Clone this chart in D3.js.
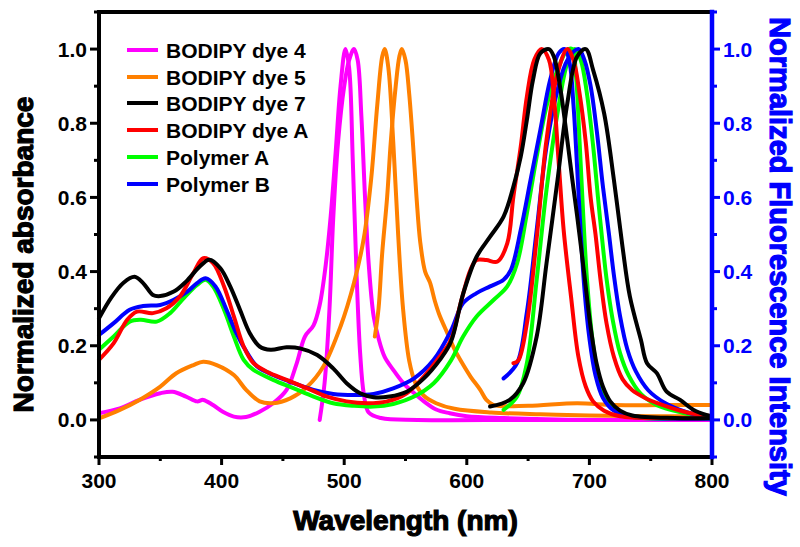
<!DOCTYPE html>
<html>
<head>
<meta charset="utf-8">
<script src="https://cdn.jsdelivr.net/npm/d3@7"></script>
<style>
html,body{margin:0;padding:0;background:#fff;}
svg{display:block;}
text{font-family:"Liberation Sans",Arial,sans-serif;font-weight:bold;}
</style>
</head>
<body>
<svg id="chart" width="800" height="547"></svg>
<script>
// ---- data (wavelength nm, normalized value) ----
const seriesNames = ["BODIPY dye 4","BODIPY dye 5","BODIPY dye 7","BODIPY dye A","Polymer A","Polymer B"];
const seriesColors = ["#ff00ff","#ff8000","#000000","#ff0000","#00ff00","#0000ff"];

const dye4Abs = [[300,0.018],[317,0.031],[333,0.054],[350,0.072],[360,0.076],[371,0.063],[380,0.05],[385,0.054],[393,0.04],[401,0.022],[410,0.009],[420,0.008],[431,0.022],[442,0.045],[453,0.081],[461,0.15],[468,0.225],[475,0.255],[480,0.31],[485,0.42],[489,0.55],[493,0.72],[497,0.9],[501,1.0],[504,0.95],[507,0.7],[510,0.4],[513,0.18],[516,0.07],[520,0.02],[530,0.005],[560,0.0],[650,0.0],[800,0.0]];
const dye4Em = [[480,0.0],[484,0.1],[488,0.3],[491,0.54],[495,0.75],[500,0.9],[504,0.97],[508,1.0],[511,0.97],[514,0.82],[517,0.6],[520,0.42],[524,0.28],[528,0.22],[533,0.17],[540,0.135],[548,0.1],[556,0.075],[565,0.05],[575,0.028],[586,0.018],[600,0.01],[630,0.005],[700,0.0],[800,0.0]];
const dye5Abs = [[300,0.004],[317,0.027],[333,0.054],[350,0.09],[363,0.126],[377,0.148],[385,0.157],[396,0.148],[410,0.121],[420,0.081],[431,0.05],[442,0.045],[456,0.058],[470,0.09],[483,0.144],[497,0.252],[508,0.37],[516,0.49],[522,0.65],[527,0.85],[531,0.98],[533,1.0],[536,0.95],[540,0.75],[544,0.5],[548,0.3],[553,0.16],[558,0.1],[565,0.065],[575,0.045],[590,0.03],[620,0.02],[660,0.015],[700,0.012],[750,0.01],[800,0.01]];
const dye5Em = [[525,0.225],[528,0.3],[531,0.45],[535,0.6],[538,0.75],[542,0.9],[545,0.98],[547,1.0],[550,0.97],[553,0.88],[556,0.75],[559,0.6],[562,0.48],[566,0.4],[570,0.37],[574,0.32],[578,0.28],[582,0.25],[586,0.22],[590,0.19],[595,0.16],[603,0.117],[611,0.081],[616,0.054],[622,0.04],[650,0.038],[690,0.045],[720,0.04],[760,0.04],[800,0.04]];
const dye7Abs = [[300,0.274],[310,0.33],[320,0.37],[329,0.386],[336,0.369],[344,0.337],[350,0.334],[361,0.346],[371,0.373],[382,0.413],[390,0.432],[399,0.409],[407,0.36],[415,0.297],[423,0.234],[431,0.198],[440,0.189],[453,0.196],[464,0.193],[478,0.175],[491,0.139],[502,0.099],[513,0.072],[524,0.061],[537,0.063],[551,0.076],[565,0.112],[578,0.162],[587,0.21],[597,0.34],[608,0.44],[619,0.494],[630,0.548],[638,0.629],[644,0.71],[649,0.809],[654,0.917],[660,0.989],[667,1.0],[671,0.98],[676,0.9],[681,0.78],[686,0.65],[690,0.55],[693,0.47],[697,0.36],[701,0.25],[706,0.15],[711,0.09],[717,0.05],[725,0.025],[735,0.012],[770,0.005],[800,0.005]];
const dye7Em = [[619,0.036],[635,0.054],[646,0.099],[657,0.225],[665,0.422],[674,0.647],[682,0.854],[690,0.98],[697,1.0],[703,0.944],[712,0.827],[720,0.647],[727,0.467],[733,0.333],[742,0.216],[747,0.153],[755,0.126],[763,0.076],[774,0.054],[785,0.027],[796,0.013],[800,0.01]];
const dyeAAbs = [[300,0.162],[312,0.207],[323,0.27],[331,0.292],[344,0.288],[355,0.301],[366,0.333],[377,0.396],[385,0.436],[393,0.423],[402,0.36],[410,0.279],[418,0.198],[426,0.153],[437,0.13],[453,0.108],[470,0.085],[486,0.063],[502,0.05],[519,0.045],[535,0.05],[551,0.072],[565,0.117],[578,0.171],[587,0.215],[595,0.315],[603,0.405],[608,0.431],[616,0.431],[625,0.427],[633,0.476],[638,0.602],[644,0.737],[649,0.872],[655,0.971],[661,1.0],[667,0.971],[671,0.872],[675,0.692],[679,0.512],[685,0.333],[691,0.171],[697,0.09],[703,0.05],[712,0.025],[725,0.01],[760,0.005],[800,0.005]];
const dyeAEm = [[638,0.153],[642,0.16],[649,0.26],[657,0.49],[665,0.755],[674,0.935],[682,1.0],[687,0.97],[692,0.88],[697,0.75],[701,0.6],[705,0.5],[709,0.38],[714,0.26],[720,0.17],[727,0.11],[735,0.08],[745,0.06],[760,0.04],[780,0.02],[800,0.01]];
const polyAAbs = [[300,0.189],[312,0.225],[325,0.265],[334,0.27],[347,0.265],[358,0.288],[369,0.328],[380,0.364],[387,0.378],[393,0.36],[402,0.297],[410,0.225],[418,0.162],[426,0.135],[442,0.108],[459,0.085],[475,0.063],[491,0.045],[508,0.038],[524,0.036],[540,0.043],[557,0.063],[573,0.099],[587,0.16],[597,0.225],[608,0.279],[622,0.324],[633,0.36],[641,0.422],[649,0.557],[657,0.71],[665,0.845],[674,0.944],[682,0.998],[686,1.0],[689,0.93],[692,0.75],[695,0.55],[698,0.38],[702,0.23],[707,0.12],[713,0.06],[720,0.03],[732,0.01],[800,0.003]];
const polyAEm = [[630,0.027],[641,0.063],[649,0.153],[657,0.378],[665,0.62],[674,0.827],[682,0.962],[688,1.0],[693,0.97],[698,0.88],[703,0.74],[707,0.6],[710,0.5],[714,0.38],[719,0.27],[725,0.18],[732,0.12],[742,0.07],[755,0.04],[775,0.02],[800,0.005]];
const polyBAbs = [[300,0.229],[312,0.261],[325,0.297],[336,0.307],[350,0.31],[361,0.324],[372,0.346],[380,0.369],[387,0.382],[395,0.36],[404,0.297],[412,0.234],[421,0.18],[429,0.144],[442,0.121],[459,0.099],[475,0.081],[491,0.07],[508,0.067],[524,0.07],[540,0.085],[557,0.112],[573,0.162],[587,0.24],[597,0.315],[608,0.342],[619,0.36],[630,0.378],[636,0.405],[644,0.512],[652,0.647],[660,0.782],[668,0.917],[675,0.989],[680,1.0],[684,0.96],[687,0.85],[690,0.68],[693,0.5],[696,0.35],[700,0.22],[705,0.12],[711,0.06],[720,0.025],[732,0.01],[800,0.003]];
const polyBEm = [[630,0.112],[641,0.153],[649,0.29],[657,0.512],[665,0.737],[674,0.89],[682,0.97],[691,1.0],[696,0.97],[701,0.9],[706,0.78],[711,0.63],[716,0.5],[720,0.39],[725,0.28],[731,0.19],[738,0.13],[748,0.08],[762,0.045],[780,0.02],[800,0.005]];

const xTicks = [300,400,500,600,700,800];
const yTicks = [0.0,0.2,0.4,0.6,0.8,1.0];

// ---- layout ----
const W = 800, H = 547;
const m = {left:99, right:88, top:12, bottom:90};
const svg = d3.select("#chart");
const x = d3.scaleLinear().domain([300,800]).range([m.left, W - m.right]);
const y = d3.scaleLinear().domain([-0.1,1.1]).range([H - m.bottom, m.top]);

const line = d3.line().x(d => x(d[0])).y(d => y(d[1])).curve(d3.curveCatmullRom.alpha(0.5));

const curves = [
  {data:dye4Abs, c:0},{data:dye4Em, c:0},
  {data:dye5Abs, c:1},{data:dye5Em, c:1},
  {data:polyAAbs, c:4},{data:polyAEm, c:4},
  {data:polyBAbs, c:5},{data:polyBEm, c:5},
  {data:dyeAAbs, c:3},{data:dyeAEm, c:3},
  {data:dye7Abs, c:2},{data:dye7Em, c:2}
];
const plot = svg.append("g");
plot.selectAll("path.curve").data(curves).enter().append("path")
  .attr("class","curve")
  .attr("d", d => line(d.data))
  .attr("fill","none")
  .attr("stroke", d => seriesColors[d.c])
  .attr("stroke-width", 4)
  .attr("stroke-linejoin","round")
  .attr("stroke-linecap","round");

// ---- axes ----
const minorY = d3.range(-0.1, 1.101, 0.1).map(v => Math.round(v*10)/10);
const minorX = d3.range(300, 801, 50);
const axisW = 4;
const isMajorY = d => yTicks.some(t => Math.abs(t-d) < 1e-6);

// left axis
const gL = svg.append("g").attr("transform", `translate(${m.left},0)`);
gL.selectAll(".tk").data(minorY).enter().append("line")
  .attr("x1", d => isMajorY(d) ? -9 : -5).attr("x2",0)
  .attr("y1", d => y(d)).attr("y2", d => y(d))
  .attr("stroke","#000").attr("stroke-width",3);
gL.selectAll(".tickl").data(yTicks).enter().append("text")
  .attr("x",-12).attr("y", d => y(d)).attr("dy","0.36em")
  .attr("text-anchor","end").attr("font-size",21).attr("fill","#000")
  .text(d => d.toFixed(1));

// right axis
const gR = svg.append("g").attr("transform", `translate(${W - m.right},0)`);
gR.selectAll(".tk").data(minorY).enter().append("line")
  .attr("x1",0).attr("x2", d => isMajorY(d) ? 8 : 5)
  .attr("y1", d => y(d)).attr("y2", d => y(d))
  .attr("stroke","#0000ff").attr("stroke-width",3);
gR.selectAll(".tickr").data(yTicks).enter().append("text")
  .attr("x",11).attr("y", d => y(d)).attr("dy","0.36em")
  .attr("text-anchor","start").attr("font-size",21).attr("fill","#0000ff")
  .text(d => d.toFixed(1));

// bottom axis
const gB = svg.append("g").attr("transform", `translate(0,${H - m.bottom})`);
gB.selectAll(".tk").data(minorX).enter().append("line")
  .attr("x1", d => x(d)).attr("x2", d => x(d))
  .attr("y1",0).attr("y2", d => xTicks.includes(d) ? 8 : 4)
  .attr("stroke","#000").attr("stroke-width",3);
gB.selectAll(".tickb").data(xTicks).enter().append("text")
  .attr("x", d => x(d)).attr("y",31)
  .attr("text-anchor","middle").attr("font-size",21).attr("fill","#000")
  .text(d => d);

// frame
svg.append("line").attr("x1",m.left).attr("x2",W-m.right).attr("y1",m.top).attr("y2",m.top).attr("stroke","#000").attr("stroke-width",axisW);
svg.append("line").attr("x1",m.left).attr("x2",W-m.right).attr("y1",H-m.bottom).attr("y2",H-m.bottom).attr("stroke","#000").attr("stroke-width",axisW).attr("stroke-linecap","square");
svg.append("line").attr("x1",m.left).attr("x2",m.left).attr("y1",m.top).attr("y2",H-m.bottom).attr("stroke","#000").attr("stroke-width",axisW).attr("stroke-linecap","square");
svg.append("line").attr("x1",W-m.right).attr("x2",W-m.right).attr("y1",m.top).attr("y2",H-m.bottom).attr("stroke","#0000ff").attr("stroke-width",axisW+0.5).attr("stroke-linecap","square");

// axis titles
svg.append("text").attr("transform",`translate(33,${(y(-0.1)+y(1.1))/2 + 20}) rotate(-90)`)
  .attr("text-anchor","middle").attr("font-size",28).attr("fill","#000")
  .attr("stroke","#000").attr("stroke-width",1.2)
  .text("Normalized absorbance");
svg.append("text").attr("transform",`translate(770,${(y(-0.1)+y(1.1))/2 + 22}) rotate(90)`)
  .attr("text-anchor","middle").attr("font-size",29).attr("fill","#0000ff")
  .attr("stroke","#0000ff").attr("stroke-width",1.2)
  .text("Normalized Fluorescence Intensity");
svg.append("text").attr("x", (x(300)+x(800))/2).attr("y", 530)
  .attr("text-anchor","middle").attr("font-size",28).attr("fill","#000")
  .attr("stroke","#000").attr("stroke-width",1.2)
  .text("Wavelength (nm)");

// legend
const lg = svg.append("g");
const rowsY = [50,77,103,130,157,184];
seriesNames.forEach((n,i) => {
  lg.append("line").attr("x1",127).attr("x2",158).attr("y1",rowsY[i]).attr("y2",rowsY[i])
    .attr("stroke",seriesColors[i]).attr("stroke-width",4);
  lg.append("text").attr("x",166).attr("y",rowsY[i]).attr("dy","0.36em")
    .attr("font-size",21).attr("fill","#000").text(n);
});
</script>
</body>
</html>
